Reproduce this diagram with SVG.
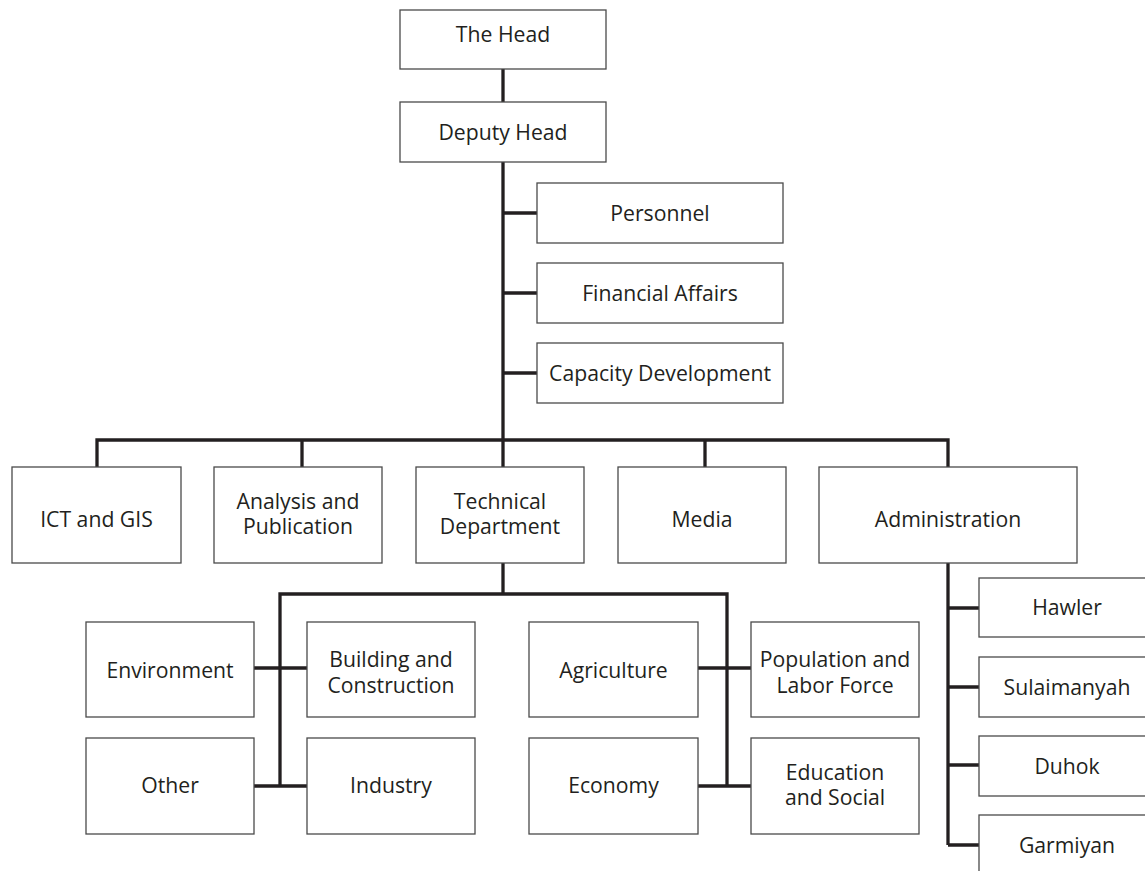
<svg xmlns="http://www.w3.org/2000/svg" width="1145" height="871" viewBox="0 0 1145 871">
<style>
.box{fill:#fff;stroke:#4a4a4a;stroke-width:1.3}
.t{font-family:"Open Sans","Noto Sans","Liberation Sans",sans-serif;font-size:21.2px;fill:#231f20;text-anchor:middle}
.c{fill:none;stroke:#231f20;stroke-width:3.3;stroke-linejoin:miter}
</style>
<rect width="1145" height="871" fill="#fff"/>
<g id="connectors">
<path class="c" d="M503 69V102M503 162V467"/>
<path class="c" d="M503 213H537M503 293H537M503 373H537"/>
<path class="c" d="M97 467V440H948V467M302 440V467M705 440V467"/>
<path class="c" d="M503 563V594M280 786V594H727V786"/>
<path class="c" d="M254 668H307M254 786H307M698 668H751M698 786H751"/>
<path class="c" d="M948 563V845M948 608H979M948 687H979M948 765H979M948 845H979"/>
</g>
<g id="head"><rect class="box" x="400" y="10" width="206" height="59"/><text class="t" x="503" y="42">The Head</text></g>
<g id="deputy"><rect class="box" x="400" y="102" width="206" height="60"/><text class="t" x="503" y="140">Deputy Head</text></g>
<g id="personnel"><rect class="box" x="537" y="183" width="246" height="60"/><text class="t" x="660" y="221">Personnel</text></g>
<g id="financial"><rect class="box" x="537" y="263" width="246" height="60"/><text class="t" x="660" y="301">Financial Affairs</text></g>
<g id="capacity"><rect class="box" x="537" y="343" width="246" height="60"/><text class="t" x="660" y="381">Capacity Development</text></g>
<g id="ict"><rect class="box" x="12" y="467" width="169" height="96"/><text class="t" x="96.5" y="527">ICT and GIS</text></g>
<g id="analysis"><rect class="box" x="214" y="467" width="168" height="96"/><text class="t" x="298" y="509">Analysis and<tspan x="298" dy="25">Publication</tspan></text></g>
<g id="technical"><rect class="box" x="416" y="467" width="168" height="96"/><text class="t" x="500" y="509">Technical<tspan x="500" dy="25">Department</tspan></text></g>
<g id="media"><rect class="box" x="618" y="467" width="168" height="96"/><text class="t" x="702" y="527">Media</text></g>
<g id="administration"><rect class="box" x="819" y="467" width="258" height="96"/><text class="t" x="948" y="527">Administration</text></g>
<g id="environment"><rect class="box" x="86" y="622" width="168" height="95"/><text class="t" x="170" y="678">Environment</text></g>
<g id="building"><rect class="box" x="307" y="622" width="168" height="95"/><text class="t" x="391" y="667">Building and<tspan x="391" dy="26">Construction</tspan></text></g>
<g id="other"><rect class="box" x="86" y="738" width="168" height="96"/><text class="t" x="170" y="793">Other</text></g>
<g id="industry"><rect class="box" x="307" y="738" width="168" height="96"/><text class="t" x="391" y="793">Industry</text></g>
<g id="agriculture"><rect class="box" x="529" y="622" width="169" height="95"/><text class="t" x="613.5" y="678">Agriculture</text></g>
<g id="population"><rect class="box" x="751" y="622" width="168" height="95"/><text class="t" x="835" y="667">Population and<tspan x="835" dy="26">Labor Force</tspan></text></g>
<g id="economy"><rect class="box" x="529" y="738" width="169" height="96"/><text class="t" x="613.5" y="793">Economy</text></g>
<g id="education"><rect class="box" x="751" y="738" width="168" height="96"/><text class="t" x="835" y="780">Education<tspan x="835" dy="25">and Social</tspan></text></g>
<g id="hawler"><rect class="box" x="979" y="578" width="176" height="59"/><text class="t" x="1067" y="615">Hawler</text></g>
<g id="sulaimanyah"><rect class="box" x="979" y="657" width="176" height="60"/><text class="t" x="1067" y="695">Sulaimanyah</text></g>
<g id="duhok"><rect class="box" x="979" y="736" width="176" height="60"/><text class="t" x="1067" y="774">Duhok</text></g>
<g id="garmiyan"><rect class="box" x="979" y="815" width="176" height="60"/><text class="t" x="1067" y="853">Garmiyan</text></g>
</svg>
